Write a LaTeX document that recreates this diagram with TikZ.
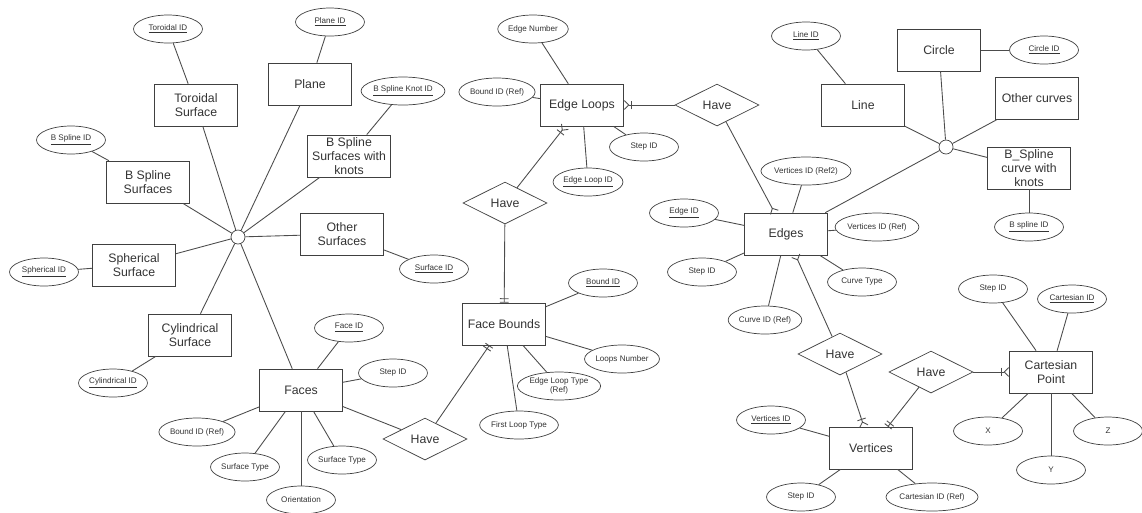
\documentclass[tikz,border=0pt]{standalone}
\usepackage{fontspec}
\setmainfont{Liberation Sans}
\usetikzlibrary{shapes.geometric,arrows.meta}
\tikzset{
    entity/.style={rectangle,draw=black!75,text=black!80,minimum width=1.66cm,minimum height=0.84cm,inner sep=0pt,align=center,font=\fontsize{7}{8}\selectfont},
    attr/.style={ellipse,draw=black!75,text=black!80,minimum width=1.38cm,minimum height=0.56cm,inner sep=0pt,align=center,font=\fontsize{4.6}{5.2}\selectfont},
    relation/.style={diamond,draw=black!75,text=black!80,aspect=2,minimum width=1.68cm,minimum height=0.84cm,inner sep=0pt,font=\fontsize{7}{8}\selectfont},
    hub/.style={circle,draw=black!75,fill=white,minimum size=0.28cm,inner sep=0pt},
    link/.style={draw=black!70,line width=0.5pt},
    many/.style={-{Straight Barb[reversed,length=2.5pt,width=5pt]}},
    onemany/.style={-{Bar[width=5pt,sep=1pt]Straight Barb[reversed,length=2.5pt,width=5pt]}},
    onlyone/.style={-{Bar[width=5pt,sep=1.5pt]Bar[width=5pt,sep=0pt]}},
    }

\begin{document}
\begin{tikzpicture}[x=0.02cm,y=-0.02cm]
    \useasboundingbox (0,0) rectangle (1142,512);
    % surfaces
    \node[hub] (sh) at (238,237) {};
    \node[entity] (tor) at (196,105) {Toroidal\\Surface};
    \node[entity] (pla) at (310,84) {Plane};
    \node[entity] (bsk) at (349,156) {B Spline\\Surfaces with\\knots};
    \node[entity] (oth) at (342,234) {Other\\Surfaces};
    \node[entity] (bss) at (148,182) {B Spline\\Surfaces};
    \node[entity] (sph) at (134,265) {Spherical\\Surface};
    \node[entity] (cyl) at (190,335) {Cylindrical\\Surface};
    \node[attr] (torid) at (168,29) {\underline{Toroidal ID}};
    \node[attr] (plaid) at (330,22) {\underline{Plane ID}};
    \node[attr] (bskid) at (403,91) {\underline{B Spline Knot ID}};
    \node[attr] (bssid) at (71,140) {\underline{B Spline ID}};
    \node[attr] (sphid) at (44,272) {\underline{Spherical ID}};
    \node[attr] (cylid) at (113,383) {\underline{Cylindrical ID}};
    \node[attr] (othid) at (434,269) {\underline{Surface ID}};
    % faces
    \node[entity] (fac) at (301,390) {Faces};
    \node[attr] (facid) at (349,328) {\underline{Face ID}};
    \node[attr] (facstep) at (393,373) {Step ID};
    \node[attr] (facbnd) at (197,432) {Bound ID (Ref)};
    \node[attr] (facst1) at (245,467) {Surface Type};
    \node[attr] (facst2) at (342,460) {Surface Type};
    \node[attr] (facori) at (301,500) {Orientation};
    \node[relation] (r1) at (425,439) {Have};
    % face bounds
    \node[entity] (fb) at (504,324) {Face Bounds};
    \node[attr] (fbid) at (603,283) {\underline{Bound ID}};
    \node[attr] (fbnum) at (622,359) {Loops Number};
    \node[attr] (fbelt) at (559,386) {Edge Loop Type\\(Ref)};
    \node[attr] (fbflt) at (519,425) {First Loop Type};
    \node[relation] (r2) at (505,203) {Have};
    % edge loops
    \node[entity] (el) at (582,105) {Edge Loops};
    \node[attr] (elnum) at (533,29) {Edge Number};
    \node[attr] (elbnd) at (497,92) {Bound ID (Ref)};
    \node[attr] (elstep) at (644,147) {Step ID};
    \node[attr] (elid) at (588,182) {\underline{Edge Loop ID}};
    \node[relation] (r3) at (717,105) {Have};
    % edges
    \node[entity] (ed) at (786,234) {Edges};
    \node[attr] (edid) at (684,213) {\underline{Edge ID}};
    \node[attr] (edv2) at (806,171) {Vertices ID (Ref2)};
    \node[attr] (edv1) at (877,227) {Vertices ID (Ref)};
    \node[attr] (edstep) at (702,272) {Step ID};
    \node[attr] (edcid) at (765,320) {Curve ID (Ref)};
    \node[attr] (edct) at (862,282) {Curve Type};
    \node[relation] (r4) at (840,354) {Have};
    % curves
    \node[hub] (ch) at (946,147) {};
    \node[entity] (lin) at (863,105) {Line};
    \node[entity] (cir) at (939,50) {Circle};
    \node[entity] (ocu) at (1037,98) {Other curves};
    \node[entity] (bsc) at (1029,168) {B\_Spline\\curve with\\knots};
    \node[attr] (linid) at (806,36) {\underline{Line ID}};
    \node[attr] (cirid) at (1044,50) {\underline{Circle ID}};
    \node[attr] (bscid) at (1029,227) {\underline{B spline ID}};
    % vertices and points
    \node[entity] (ver) at (871,448) {Vertices};
    \node[attr] (verid) at (771,420) {\underline{Vertices ID}};
    \node[attr] (verstep) at (801,497) {Step ID};
    \node[attr] (vercid) at (932,497) {Cartesian ID (Ref)};
    \node[relation] (r5) at (931,372) {Have};
    \node[entity] (cp) at (1051,372) {Cartesian\\Point};
    \node[attr] (cpstep) at (993,289) {Step ID};
    \node[attr] (cpid) at (1072,299) {\underline{Cartesian ID}};
    \node[attr] (cpx) at (988,431) {X};
    \node[attr] (cpy) at (1051,470) {Y};
    \node[attr] (cpz) at (1108,431) {Z};

    \foreach \n in {tor,pla,bsk,oth,bss,sph,cyl,fac}
        \draw[link] (sh) -- (\n);
    \draw[link] (torid) -- (tor);
    \draw[link] (plaid) -- (pla);
    \draw[link] (bskid) -- (bsk);
    \draw[link] (bssid) -- (bss);
    \draw[link] (sphid) -- (sph);
    \draw[link] (cylid) -- (cyl);
    \draw[link] (othid) -- (oth);

    \foreach \n in {facid,facstep,facbnd,facst1,facst2,facori}
        \draw[link] (fac) -- (\n);
    \foreach \n in {fbid,fbnum,fbelt,fbflt}
        \draw[link] (fb) -- (\n);
    \foreach \n in {elnum,elbnd,elstep,elid}
        \draw[link] (el) -- (\n);
    \foreach \n in {edid,edv2,edv1,edstep,edcid,edct}
        \draw[link] (ed) -- (\n);
    \foreach \n in {verid,verstep,vercid}
        \draw[link] (ver) -- (\n);
    \foreach \n in {cpstep,cpid,cpx,cpy,cpz}
        \draw[link] (cp) -- (\n);

    \foreach \n in {lin,cir,ocu,bsc,ed}
        \draw[link] (ch) -- (\n);
    \draw[link] (linid) -- (lin);
    \draw[link] (cirid) -- (cir);
    \draw[link] (bscid) -- (bsc);

    \draw[link] (fac) -- (r1);
    \draw[link,onlyone] (r1) -- (fb);
    \draw[link,onlyone] (r2) -- (fb);
    \draw[link,onemany] (r2) -- (el);
    \draw[link,onemany] (r3) -- (el);
    \draw[link,many] (r3) -- (ed);
    \draw[link,many] (r4) -- (ed);
    \draw[link,onemany] (r4) -- (ver);
    \draw[link,onlyone] (r5) -- (ver);
    \draw[link,onemany] (r5) -- (cp);
\end{tikzpicture}
\end{document}
